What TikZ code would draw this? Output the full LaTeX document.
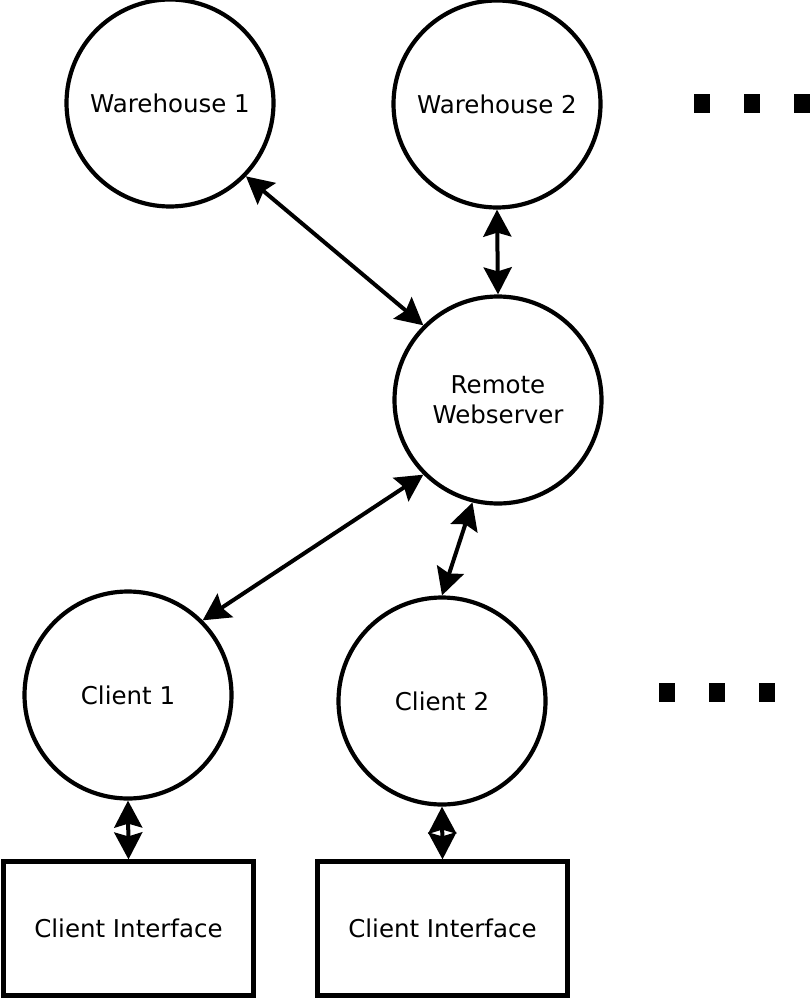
\documentclass[tikz,border=0pt]{standalone}
\usepackage{fontspec}
\setmainfont{DejaVu Sans}
\usetikzlibrary{arrows.meta}
\tikzset{
  site/.style={draw,circle,line width=4.2pt,minimum size=207pt,inner sep=0pt,align=center},
  uibox/.style={draw,rectangle,line width=4.2pt,minimum width=250pt,minimum height=134pt,inner sep=0pt},
  link/.style={<->,line width=4pt}
}
\begin{document}
\begin{tikzpicture}[x=1pt,y=-1pt,>={Stealth[length=27pt,width=28pt,inset=4pt]},font=\fontsize{24.5}{30}\selectfont]
\useasboundingbox (0,0) rectangle (810,1000);
		% sites
		\node[site] (wh1) at (170,103) {Warehouse 1};
		\node[site] (wh2) at (497,104) {Warehouse 2};
		\node[site] (web) at (498,400) {Remote\\Webserver};
		\node[site] (cl1) at (128,695) {Client 1};
		\node[site] (cl2) at (442,701) {Client 2};
		\node[uibox] (ci1) at (128.5,928.5) {Client Interface};
		\node[uibox] (ci2) at (442.5,928.5) {Client Interface};
		% links
		\draw[link] (wh1.-44)--(web.135);
		\draw[link] (wh2.south)--(web.north);
		\draw[link] (web.225)--(cl1.45);
		\draw[link] (web.256)--(cl2.north);
		\draw[link] (cl1.south)--(ci1.north);
		\draw[link] (cl2.south)--(ci2.north);
		% more of the same
		\foreach \x/\y in {702/104,752/104,802/104,667/692,717/692,767/692}\fill (\x-8,\y-9.5) rectangle (\x+8,\y+9.5);
\end{tikzpicture}
\end{document}
